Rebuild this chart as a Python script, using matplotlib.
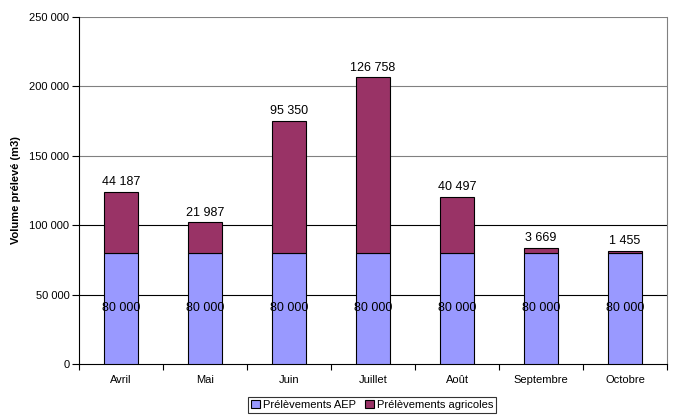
import matplotlib
matplotlib.use("Agg")
import matplotlib.pyplot as plt
from matplotlib.patches import Patch

months = ["Avril", "Mai", "Juin", "Juillet", "Août", "Septembre", "Octobre"]
aep = [80000, 80000, 80000, 80000, 80000, 80000, 80000]
agri = [44187, 21987, 95350, 126758, 40497, 3669, 1455]
yticks = [0, 50000, 100000, 150000, 200000, 250000]

def fmt(v):
    return f"{v:,}".replace(",", " ")

plt.rcParams['font.family'] = ['Liberation Sans', 'DejaVu Sans']

fig = plt.figure(figsize=(6.74, 4.17), dpi=100)
W, H = 674, 417
ax = fig.add_axes([79 / W, 1 - 364 / H, (667 - 79) / W, (364 - 17) / H])

x = list(range(len(months)))
c_aep = "#9999ff"
c_agri = "#993366"
ax.bar(x, aep, width=0.4, color=c_aep, edgecolor="black", linewidth=0.8, zorder=3)
ax.bar(x, agri, width=0.4, bottom=aep, color=c_agri, edgecolor="black", linewidth=0.8, zorder=3)

for i in x:
    ax.text(i, aep[i] / 2, fmt(aep[i]), ha="center", va="center", fontsize=9, zorder=4)
    ax.text(i, aep[i] + agri[i] + 2500, fmt(agri[i]), ha="center", va="bottom", fontsize=9, zorder=4)

ax.set_xlim(-0.5, len(months) - 0.5)
ax.set_ylim(0, 250000)
ax.set_yticks(yticks)
ax.set_yticklabels([fmt(v) for v in yticks], fontsize=8)
ax.set_xticks(x)
ax.set_xticklabels(months, fontsize=8)
ax.tick_params(axis="x", length=0, pad=8)
ax.set_xticks([i + 0.5 for i in x[:-1]] + [-0.5, len(months) - 0.5], minor=True)
ax.tick_params(axis="x", which="minor", length=4, direction="out", width=0.8)
ax.tick_params(axis="y", length=5, direction="out", width=0.8, pad=2)

grid_colors = {50000: "black", 100000: "black", 150000: "#808080", 200000: "#808080", 250000: "#808080"}
for v, c in grid_colors.items():
    ax.axhline(v, color=c, linewidth=0.8, zorder=1)

ax.spines["left"].set_color("black")
ax.spines["bottom"].set_color("black")
ax.spines["right"].set_color("#808080")
ax.spines["top"].set_visible(False)
for s in ax.spines.values():
    s.set_linewidth(0.8)

ax.set_ylabel("Volume prélevé (m3)", fontsize=8, fontweight="bold", labelpad=6)

handles = [Patch(facecolor=c_aep, edgecolor="black", linewidth=0.8, label="Prélèvements AEP"),
           Patch(facecolor=c_agri, edgecolor="black", linewidth=0.8, label="Prélèvements agricoles")]
leg = fig.legend(handles=handles, loc="center", bbox_to_anchor=(372 / W, 1 - 405 / H), ncol=2,
                 fontsize=8, frameon=True, fancybox=False, edgecolor="black",
                 handlelength=0.8, handleheight=0.8, handletextpad=0.3, columnspacing=0.8,
                 borderpad=0.25, borderaxespad=0)
leg.get_frame().set_linewidth(0.8)

fig.savefig("out.png", dpi=100)
